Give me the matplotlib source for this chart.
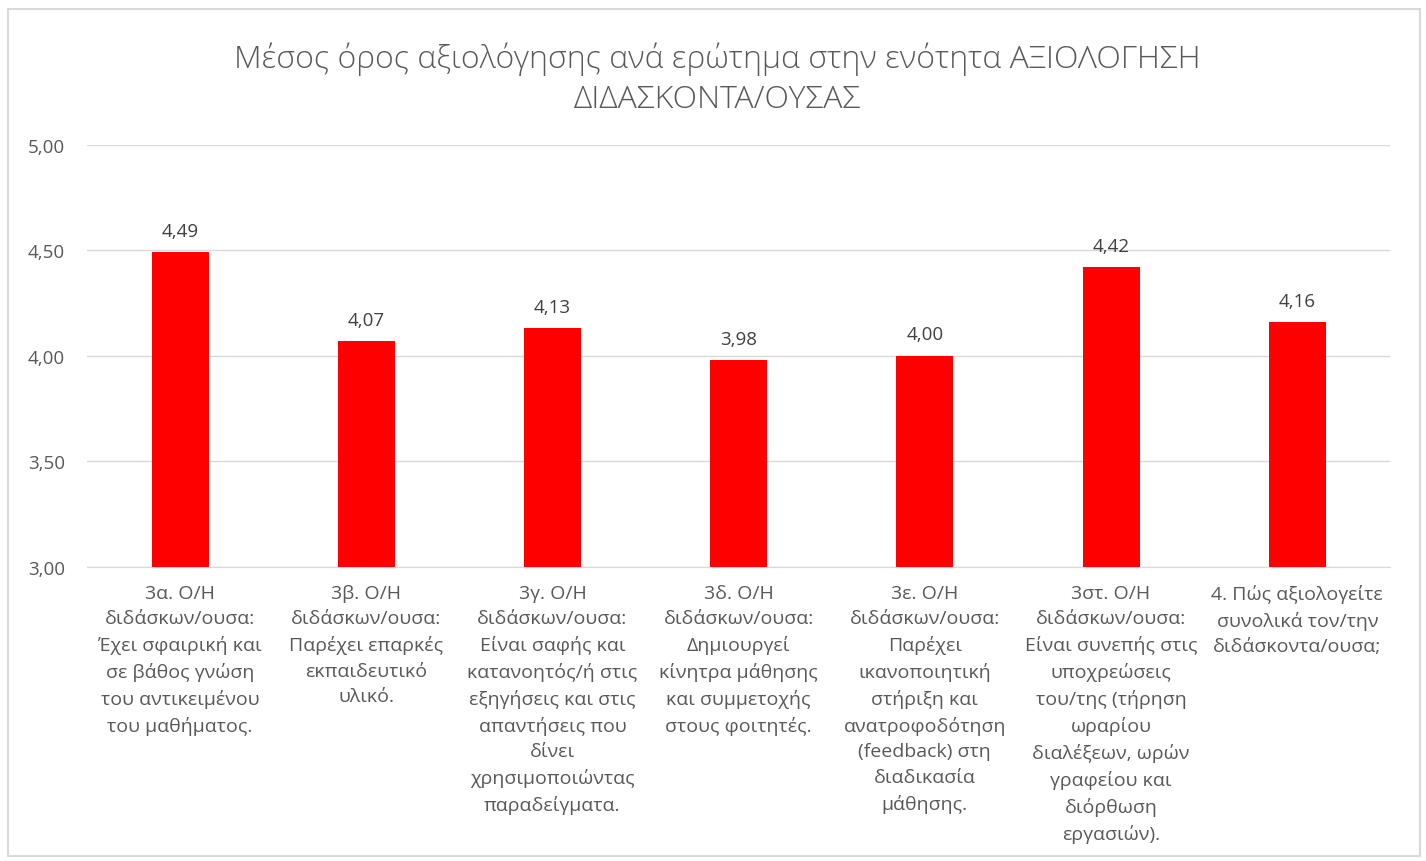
import matplotlib.pyplot as plt
from matplotlib.patches import Rectangle

plt.rcParams['font.family'] = ['Open Sans', 'DejaVu Sans']

title = 'Μέσος όρος αξιολόγησης ανά ερώτημα στην ενότητα ΑΞΙΟΛΟΓΗΣΗ\nΔΙΔΑΣΚΟΝΤΑ/ΟΥΣΑΣ'

categories = [
    '3α. Ο/Η\nδιδάσκων/ουσα:\nΈχει σφαιρική και\nσε βάθος γνώση\nτου αντικειμένου\nτου μαθήματος.',
    '3β. Ο/Η\nδιδάσκων/ουσα:\nΠαρέχει επαρκές\nεκπαιδευτικό\nυλικό.',
    '3γ. Ο/Η\nδιδάσκων/ουσα:\nΕίναι σαφής και\nκατανοητός/ή στις\nεξηγήσεις και στις\nαπαντήσεις που\nδίνει\nχρησιμοποιώντας\nπαραδείγματα.',
    '3δ. Ο/Η\nδιδάσκων/ουσα:\nΔημιουργεί\nκίνητρα μάθησης\nκαι συμμετοχής\nστους φοιτητές.',
    '3ε. Ο/Η\nδιδάσκων/ουσα:\nΠαρέχει\nικανοποιητική\nστήριξη και\nανατροφοδότηση\n(feedback) στη\nδιαδικασία\nμάθησης.',
    '3στ. Ο/Η\nδιδάσκων/ουσα:\nΕίναι συνεπής στις\nυποχρεώσεις\nτου/της (τήρηση\nωραρίου\nδιαλέξεων, ωρών\nγραφείου και\nδιόρθωση\nεργασιών).',
    '4. Πώς αξιολογείτε\nσυνολικά τον/την\nδιδάσκοντα/ουσα;',
]
values = [4.49, 4.07, 4.13, 3.98, 4.00, 4.42, 4.16]
yticks = [3.0, 3.5, 4.0, 4.5, 5.0]

fig = plt.figure(figsize=(14.26, 8.62), dpi=100)
ax = fig.add_axes([0.061, 0.341, 0.914, 0.490])

# chart frame
fig.patches.append(Rectangle((8 / 1426, 5 / 862), 1412 / 1426, 847 / 862,
                             transform=fig.transFigure, fill=False,
                             edgecolor='#D9D9D9', linewidth=1.5))

x = range(len(values))
ax.bar(x, values, width=0.306, color='#FF0000', zorder=3)

for i, v in enumerate(values):
    ax.annotate(('%.2f' % v).replace('.', ','), (i, v), xytext=(0, 9),
                textcoords='offset points', ha='center', va='bottom',
                fontsize=13.5, color='#404040')

ax.set_ylim(3.0, 5.0)
ax.set_xlim(-0.5, len(values) - 0.5)
ax.set_yticks(yticks)
ax.set_yticklabels([('%.2f' % t).replace('.', ',') for t in yticks],
                   fontsize=13.5, color='#595959')
ax.set_xticks(list(x))
ax.set_xticklabels(categories, fontsize=14, color='#595959', linespacing=1.53,
                   va='top')
ax.tick_params(axis='both', length=0)
ax.tick_params(axis='y', pad=16)
ax.tick_params(axis='x', pad=12)
ax.grid(axis='y', color='#D9D9D9', linewidth=1, zorder=0)
for s in ['top', 'right', 'left']:
    ax.spines[s].set_visible(False)
ax.spines['bottom'].set_color('#D9D9D9')

fig.text(0.503, 0.908, title, ha='center', va='center', fontsize=23,
         color='#595959', linespacing=1.3, fontweight='light')

fig.savefig('out.png', dpi=100)
